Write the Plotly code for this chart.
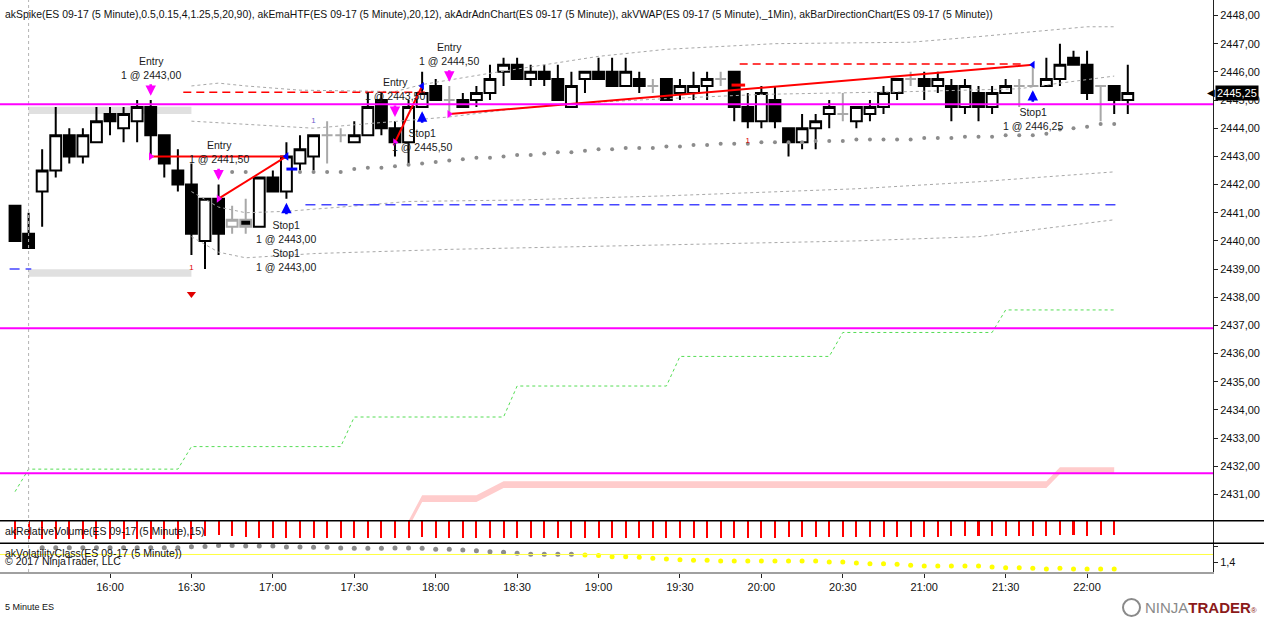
import pandas as pd
import plotly.graph_objects as go

DAY = "2017-07-13"
bar_times = pd.date_range(DAY + " 15:25", periods=83, freq="5min")
x_ticks = ["16:00", "16:30", "17:00", "17:30", "18:00", "18:30", "19:00",
           "19:30", "20:00", "20:30", "21:00", "21:30", "22:00"]

# OHLC of the 83 five-minute bars (15:25 .. 22:15)
opens = [2441.25, 2440.25, 2441.75, 2442.50, 2443.75, 2443.00, 2443.50, 2444.50, 2444.00, 2444.25,
         2444.75, 2443.75, 2442.50, 2442.00, 2440.00, 2441.50, 2440.50, 2440.75, 2440.50, 2442.25,
         2441.75, 2442.75, 2443.00, 2443.75, 2443.75, 2443.50, 2443.75, 2445.00, 2444.00, 2443.50,
         2444.75, 2445.50, 2445.00, 2445.00, 2445.00, 2445.25, 2446.00, 2446.25, 2445.75, 2446.00,
         2445.75, 2444.75, 2445.75, 2446.00, 2446.00, 2445.50, 2445.75, 2445.50, 2445.75, 2445.25,
         2445.25, 2445.50, 2445.75, 2446.00, 2444.75, 2444.25, 2445.00, 2444.00, 2443.50, 2444.00,
         2444.50, 2444.50, 2444.25, 2444.50, 2444.75, 2445.25, 2445.75, 2445.75, 2445.50, 2445.50,
         2444.75, 2445.25, 2444.75, 2445.25, 2445.50, 2445.50, 2445.50, 2445.75, 2446.50, 2446.25,
         2445.50, 2445.50, 2445.00]
highs = [2441.25, 2441.00, 2443.25, 2444.75, 2444.00, 2444.00, 2444.75, 2444.75, 2444.75, 2445.00,
         2445.00, 2443.75, 2443.25, 2442.75, 2441.50, 2442.00, 2441.25, 2441.50, 2442.25, 2442.50,
         2443.50, 2443.75, 2443.75, 2444.25, 2444.00, 2444.25, 2445.25, 2445.25, 2444.25, 2445.00,
         2446.00, 2445.75, 2445.50, 2445.25, 2445.50, 2446.25, 2446.50, 2446.50, 2446.25, 2446.25,
         2446.25, 2446.00, 2446.00, 2446.50, 2446.50, 2446.50, 2446.00, 2445.75, 2445.75, 2445.75,
         2446.00, 2446.00, 2446.00, 2446.00, 2445.25, 2445.50, 2445.50, 2444.00, 2444.50, 2444.50,
         2445.00, 2445.25, 2444.75, 2445.00, 2445.50, 2445.75, 2446.00, 2446.00, 2446.00, 2445.75,
         2445.75, 2445.50, 2445.50, 2445.75, 2445.75, 2446.25, 2446.50, 2447.00, 2446.75, 2446.75,
         2445.50, 2445.50, 2446.25]
lows = [2440.00, 2439.75, 2440.50, 2442.25, 2442.75, 2442.75, 2443.50, 2443.75, 2443.50, 2443.50,
        2443.00, 2442.25, 2441.75, 2439.50, 2439.00, 2439.50, 2440.25, 2440.25, 2440.50, 2441.75,
        2441.50, 2442.50, 2442.50, 2442.75, 2443.50, 2443.50, 2443.75, 2443.75, 2443.00, 2442.75,
        2444.75, 2445.00, 2444.50, 2444.75, 2444.75, 2445.00, 2445.50, 2445.75, 2445.50, 2445.50,
        2445.00, 2444.75, 2445.25, 2445.75, 2445.50, 2445.50, 2445.25, 2445.25, 2445.00, 2445.00,
        2445.00, 2445.00, 2445.50, 2444.25, 2444.00, 2444.00, 2444.00, 2443.00, 2443.25, 2443.25,
        2444.00, 2444.25, 2444.00, 2444.25, 2444.50, 2445.00, 2445.50, 2445.00, 2445.25, 2444.25,
        2444.50, 2444.25, 2444.50, 2445.25, 2444.75, 2445.50, 2445.50, 2445.50, 2446.25, 2445.00,
        2444.25, 2444.50, 2444.50]
closes = [2440.00, 2439.75, 2442.50, 2443.75, 2443.00, 2443.75, 2444.25, 2444.25, 2444.50, 2444.75,
          2443.75, 2442.75, 2442.00, 2440.25, 2441.50, 2440.25, 2440.75, 2440.50, 2442.25, 2441.75,
          2443.00, 2443.25, 2443.75, 2443.75, 2443.75, 2443.75, 2444.75, 2444.00, 2443.50, 2444.75,
          2445.25, 2445.00, 2445.00, 2444.75, 2445.25, 2445.75, 2446.25, 2445.75, 2446.00, 2445.75,
          2445.00, 2445.50, 2446.00, 2445.75, 2445.50, 2446.00, 2445.50, 2445.50, 2445.00, 2445.50,
          2445.50, 2445.75, 2445.75, 2444.75, 2444.25, 2445.25, 2444.25, 2443.50, 2444.00, 2444.25,
          2444.75, 2444.50, 2444.75, 2444.75, 2445.25, 2445.75, 2445.75, 2445.50, 2445.75, 2444.75,
          2445.50, 2444.75, 2445.25, 2445.50, 2445.50, 2445.50, 2445.75, 2446.25, 2446.25, 2445.25,
          2445.50, 2445.00, 2445.25]
# bars painted grey by akBarDirectionChart
gray_bars = [16, 17, 23, 24, 32, 47, 52, 61, 66, 74, 75, 80]

# akVWAP dots, bars 16..81
vwap_start = 16
vwap = [2442.45, 2442.45, None, None, None, 2442.45, 2442.45, 2442.45, 2442.45, 2442.55,
        2442.60, 2442.60, 2442.65, 2442.70, 2442.75, 2442.80, 2442.85, 2442.90, 2442.95, 2442.95,
        2443.00, 2443.05, 2443.05, 2443.10, 2443.15, 2443.15, 2443.20, 2443.25, 2443.25, 2443.30,
        2443.30, 2443.30, 2443.35, 2443.35, 2443.40, 2443.40, 2443.45, 2443.45, 2443.45, 2443.50,
        2443.50, 2443.50, 2443.50, 2443.55, 2443.55, 2443.55, 2443.60, 2443.60, 2443.60, 2443.60,
        2443.60, 2443.65, 2443.65, 2443.65, 2443.70, 2443.70, 2443.70, 2443.75, 2443.75, 2443.75,
        2443.80, 2443.95, 2444.00, 2444.05, 2444.15, 2444.15]

# akEmaHTF band lines (bar index, price)
band_a_idx = [13, 15, 17, 21, 28, 30, 35, 43, 48, 56, 66, 71, 79, 81]
band_a = [2445.50, 2445.60, 2445.50, 2445.35, 2445.30, 2445.55, 2445.95, 2446.55, 2446.80, 2447.00,
          2447.05, 2447.25, 2447.60, 2447.60]
band_b_idx = [13, 17, 22, 27, 32, 37, 42, 48, 55, 66, 74, 77, 81]
band_b = [2444.25, 2444.15, 2444.00, 2444.20, 2444.40, 2444.70, 2444.90, 2445.05, 2445.20, 2445.30,
          2445.40, 2445.60, 2445.85]
band_c_idx = [13, 15, 17, 20, 24, 29, 37, 48, 62, 71, 81]
band_c = [2441.75, 2441.20, 2441.00, 2441.05, 2441.20, 2441.40, 2441.45, 2441.60, 2441.85, 2442.10, 2442.45]
band_d_idx = [13, 15, 17, 22, 32, 48, 62, 71, 77, 81]
band_d = [2440.15, 2439.60, 2439.40, 2439.55, 2439.70, 2439.85, 2440.00, 2440.15, 2440.50, 2440.75]

# akAdrAdnChart step line and band
green_idx = [0, 1, 12, 13, 24, 25, 36, 37, 48, 49, 60, 61, 72, 73, 81]
green = [2431.10, 2431.90, 2431.90, 2432.70, 2432.70, 2433.75, 2433.75, 2434.85, 2434.85, 2435.90,
         2435.90, 2436.75, 2436.75, 2437.55, 2437.55]
pink_idx = [29, 30, 34, 36, 76, 77, 81]
pink = [2429.95, 2430.85, 2430.85, 2431.35, 2431.35, 2431.85, 2431.85]

adr_levels = [2444.85, 2436.90, 2431.75]
zone_low = [2444.50, 2438.73]
zone_high = [2444.76, 2438.99]
zone_from, zone_to = "15:30", "16:30"
red_dash_px = [2445.28, 2446.28]
red_dash_from = ["16:27", "19:52"]
red_dash_to = ["17:56", "21:36"]
blue_dash_px = [2441.28, 2439.00]
blue_dash_from = ["17:12", "15:23"]
blue_dash_to = ["22:11", "15:31"]
session_break = "15:30"

# trades
entry_idx = [10, 15, 28, 32]
entry_px = [2443.00, 2441.50, 2443.50, 2444.50]
exit_idx = [20, 20, 30, 75]
exit_px = [2443.00, 2443.00, 2445.50, 2446.25]
stop_mark_px, stop_mark_from, stop_mark_to = 2442.55, "17:05", "17:09"
target_mark_px, target_mark_from, target_mark_to = 2445.53, "19:49", "19:54"

# akSpike marks
spike_idx = [13]
spike_px = [2438.12]
spike_num_idx = [22, 13, 54]
spike_num_px = [2444.27, 2439.04, 2443.56]
spike_num_col = ["#6a5acd", "#e00000", "#e00000"]

# lower panels, bars 0..81 / 2..81
rel_volume = [1.75] * 14 + [1.5, 1.4, 1.5, 1.6] + [1.73] * 12 + [1.6] + [1.73] * 10 + \
             [1.66] * 6 + [1.73] * 4 + [1.66] + [1.73] * 3 + [1.66, 1.73] + [1.6] * 12 + \
             [1.5] * 8 + [1.4, 1.4, 1.5, 1.4, 1.4]
vol_start = 2
volatility = [1.49] * 11 + [1.495, 1.497, 1.503, 1.503, 1.5, 1.5, 1.5, 1.494, 1.494, 1.492,
              1.492, 1.488, 1.486, 1.486, 1.486, 1.488, 1.488, 1.486, 1.48, 1.48,
              1.475, 1.471, 1.465, 1.461, 1.455, 1.45, 1.45, 1.45, 1.45,
              1.445, 1.441, 1.434, 1.434, 1.431, 1.425, 1.42, 1.416, 1.412, 1.412,
              1.408, 1.408, 1.408, 1.408, 1.408, 1.408, 1.408, 1.408, 1.402, 1.402,
              1.396, 1.391, 1.391, 1.388, 1.382, 1.377, 1.377, 1.377, 1.377, 1.377,
              1.371, 1.367, 1.367, 1.363, 1.359, 1.363, 1.359, 1.359, 1.359, 1.359]
vol_line = 1.448

FONT = "Liberation Sans, Arial, sans-serif"


def t(hhmm):
    return pd.Timestamp(DAY + " " + hhmm)


def fmt(p):
    return f"{p:.2f}".replace(".", ",")


def at(idx):
    return [bar_times[i] for i in idx]


fig = go.Figure()

fig.add_trace(go.Scatter(x=at(green_idx), y=green, mode="lines",
                         line=dict(color="#55dd55", width=1, dash="dot")))
fig.add_trace(go.Scatter(x=at(pink_idx), y=[v - 0.12 for v in pink], mode="lines",
                         line=dict(width=0, color="#ffcccc")))
fig.add_trace(go.Scatter(x=at(pink_idx), y=[v + 0.12 for v in pink], mode="lines",
                         line=dict(width=0, color="#ffcccc"), fill="tonexty", fillcolor="#ffcccc"))

for bi, bv in [(band_a_idx, band_a), (band_b_idx, band_b), (band_c_idx, band_c), (band_d_idx, band_d)]:
    fig.add_trace(go.Scatter(x=at(bi), y=bv, mode="lines",
                             line=dict(color="#a8a8a8", width=1, dash="dot")))

fig.add_trace(go.Scatter(x=bar_times[vwap_start:vwap_start + len(vwap)], y=vwap, mode="markers",
                         marker=dict(size=4, color="#8c8c8c")))


# candles: normal and grey ones
def pick(vals, keep):
    return [v if keep(i) else None for i, v in enumerate(vals)]


normal = lambda i: i not in gray_bars
grey = lambda i: i in gray_bars
fig.add_trace(go.Candlestick(
    x=bar_times, open=pick(opens, normal), high=pick(highs, normal),
    low=pick(lows, normal), close=pick(closes, normal),
    increasing=dict(line=dict(color="black", width=2), fillcolor="white"),
    decreasing=dict(line=dict(color="black", width=2), fillcolor="black"),
    whiskerwidth=0, hoverinfo="skip"))
fig.add_trace(go.Candlestick(
    x=bar_times, open=pick(opens, grey), high=pick(highs, grey),
    low=pick(lows, grey), close=pick(closes, grey),
    increasing=dict(line=dict(color="#a8a8a8", width=2), fillcolor="white"),
    decreasing=dict(line=dict(color="#a8a8a8", width=2), fillcolor="black"),
    whiskerwidth=0, hoverinfo="skip"))

# trade lines
for ei, ep, xi, xp in zip(entry_idx, entry_px, exit_idx, exit_px):
    fig.add_trace(go.Scatter(x=[bar_times[ei], bar_times[xi]], y=[ep, xp], mode="lines",
                             line=dict(color="#ff0000", width=2)))
fig.add_trace(go.Scatter(x=at(entry_idx), y=entry_px, mode="markers",
                         marker=dict(symbol="triangle-right", size=7, color="#ff00ff")))
fig.add_trace(go.Scatter(x=at(exit_idx), y=exit_px, mode="markers",
                         marker=dict(symbol="triangle-left", size=7, color="#0000ff")))
fig.add_trace(go.Scatter(x=[t(stop_mark_from), t(stop_mark_to)], y=[stop_mark_px] * 2, mode="lines",
                         line=dict(color="#0000ff", width=3)))
fig.add_trace(go.Scatter(x=[t(target_mark_from), t(target_mark_to)], y=[target_mark_px] * 2,
                         mode="lines", line=dict(color="#ff0000", width=3)))

# spikes
fig.add_trace(go.Scatter(x=at(spike_idx), y=spike_px, mode="markers",
                         marker=dict(symbol="triangle-down", size=8, color="#e00000")))
fig.add_trace(go.Scatter(x=at(spike_num_idx), y=spike_num_px, mode="text", text=["1"] * 3,
                         textfont=dict(size=8, color=spike_num_col, family=FONT)))

# lower panels
fig.add_trace(go.Bar(x=bar_times[:len(rel_volume)], y=rel_volume, yaxis="y2",
                     width=45000, marker=dict(color="#ff0000", line=dict(width=0))))
vol_colors = ["#8c8c8c" if v > vol_line else "#ffff00" for v in volatility]
fig.add_trace(go.Scatter(x=bar_times[vol_start:vol_start + len(volatility)], y=volatility,
                         yaxis="y3", mode="markers", marker=dict(size=5, color=vol_colors)))

shapes = []
PW = 1213.0
PH = 572.0
right_edge = 1264 / PW
for yp in [(PH - 520.7) / PH, (PH - 543.3) / PH]:
    shapes.append(dict(type="line", xref="paper", yref="paper", x0=0, x1=right_edge, y0=yp, y1=yp,
                       line=dict(color="black", width=1.5)))
shapes.append(dict(type="line", xref="x", yref="paper", x0=t(session_break), x1=t(session_break),
                   y0=0, y1=1, line=dict(color="#b4b4b4", width=1, dash="dot")))
for lo, hi in zip(zone_low, zone_high):
    shapes.append(dict(type="rect", xref="x", yref="y", x0=t(zone_from), x1=t(zone_to), y0=lo, y1=hi,
                       fillcolor="#e0e0e0", line=dict(width=0), layer="below"))
for p, a, b in zip(red_dash_px, red_dash_from, red_dash_to):
    shapes.append(dict(type="line", xref="x", yref="y", x0=t(a), x1=t(b), y0=p, y1=p,
                       line=dict(color="#ff0000", width=1.5, dash="8px,5px")))
for p, a, b in zip(blue_dash_px, blue_dash_from, blue_dash_to):
    shapes.append(dict(type="line", xref="x", yref="y", x0=t(a), x1=t(b), y0=p, y1=p,
                       line=dict(color="#4646ff", width=1.5, dash="10px,6px")))
for p in adr_levels:
    shapes.append(dict(type="line", xref="paper", yref="y", x0=0, x1=1, y0=p, y1=p,
                       line=dict(color="#ff00ff", width=2)))
shapes.append(dict(type="line", xref="paper", yref="y3", x0=0, x1=1, y0=vol_line, y1=vol_line,
                   line=dict(color="#ffff40", width=1)))
# logo ring
shapes.append(dict(type="circle", xref="paper", yref="paper",
                   x0=1123 / PW, x1=1140 / PW, y0=(PH - 616) / PH, y1=(PH - 599) / PH,
                   line=dict(color="#8a8a8a", width=2)))

ann = []
txt = dict(family=FONT, size=10.5, color="#111111")
ann.append(dict(xref="paper", yref="paper", x=3 / PW, y=(PH - 14) / PH, xanchor="left", yanchor="middle",
                showarrow=False, font=dict(family=FONT, size=10.4, color="#111111"),
                text="akSpike(ES 09-17 (5 Minute),0.5,0.15,4,1.25,5,20,90), akEmaHTF(ES 09-17 (5 Minute),20,12), "
                     "akAdrAdnChart(ES 09-17 (5 Minute)), akVWAP(ES 09-17 (5 Minute),_1Min), "
                     "akBarDirectionChart(ES 09-17 (5 Minute))"))
for text, py in [("akRelativeVolume(ES 09-17 (5 Minute),15)", 531),
                 ("akVolatilityClass(ES 09-17 (5 Minute))", 553),
                 ("© 2017 NinjaTrader, LLC", 561)]:
    ann.append(dict(xref="paper", yref="paper", x=3 / PW, y=(PH - py) / PH, xanchor="left",
                    yanchor="middle", showarrow=False, font=txt, text=text))
ann.append(dict(xref="paper", yref="paper", x=3 / PW, y=(PH - 607) / PH, xanchor="left", yanchor="middle",
                showarrow=False, font=dict(family=FONT, size=9, color="#111111"), text="5 Minute ES"))
ann.append(dict(xref="paper", yref="paper", x=1143 / PW, y=(PH - 607) / PH, xanchor="left",
                yanchor="middle", showarrow=False, font=dict(family=FONT, size=15, color="#8a8a8a"),
                text="NINJA<b><span style='color:#8b1a1a'>TRADER</span></b>"
                     "<span style='color:#8b1a1a;font-size:8px'>®</span>"))

# last price box
ann.append(dict(xref="paper", yref="y", x=1, y=closes[-1], xanchor="left", yanchor="middle", xshift=2,
                showarrow=False, text=fmt(closes[-1]), bgcolor="black", borderpad=1,
                font=dict(family=FONT, size=11, color="white")))
ann.append(dict(xref="paper", yref="y", x=1, y=closes[-1], xanchor="right", yanchor="middle", xshift=4,
                showarrow=False, text="◀", font=dict(family=FONT, size=10, color="black")))

lab = dict(family=FONT, size=10.5, color="#1a1a1a")
for ei, ep in zip(entry_idx, entry_px):
    tip = highs[ei] + 0.15
    ann.append(dict(x=bar_times[ei], y=tip, ax=0, ay=-13, showarrow=True, text="", arrowhead=2,
                    arrowsize=0.8, arrowwidth=2.6, arrowcolor="#ff00ff", standoff=0))
    ann.append(dict(x=bar_times[ei], y=tip, showarrow=False, yanchor="bottom", yshift=13,
                    text="Entry<br>1 @ " + fmt(ep), font=lab))
seen = {}
for xi, xp in zip(exit_idx, exit_px):
    tip = lows[xi] - 0.15
    k = seen.get(xi, 0)
    seen[xi] = k + 1
    if k == 0:
        ann.append(dict(x=bar_times[xi], y=tip, ax=0, ay=13, showarrow=True, text="", arrowhead=2,
                        arrowsize=0.8, arrowwidth=2.6, arrowcolor="#0000ff", standoff=0))
    ann.append(dict(x=bar_times[xi], y=tip, showarrow=False, yanchor="top", yshift=-14 - 28 * k,
                    text="Stop1<br>1 @ " + fmt(xp), font=lab))

axis_font = dict(family=FONT, size=11, color="#111111")
fig.update_layout(
    width=1264, height=617,
    margin=dict(l=0, r=51, t=0, b=45),
    paper_bgcolor="white", plot_bgcolor="white",
    showlegend=False, separators=",.", boxgap=0.2, boxgroupgap=0, bargap=0,
    shapes=shapes, annotations=ann,
    xaxis=dict(type="date", domain=[0, 1], anchor="y3",
               range=[t("15:19:28"), t("22:46:24")],
               tickvals=[t(h) for h in x_ticks], ticktext=x_ticks,
               showgrid=False, zeroline=False, showline=True, linecolor="#a0a0a0", linewidth=2,
               ticks="outside", ticklen=4, tickcolor="#222222", tickfont=axis_font,
               rangeslider=dict(visible=False), fixedrange=True),
    yaxis=dict(domain=[(PH - 520.7) / PH, 1], anchor="x", side="right",
               range=[2430.07, 2448.55], tick0=2431, dtick=1, tickformat=".2f",
               showgrid=False, zeroline=False, showline=True, linecolor="#222222", linewidth=1,
               ticks="outside", ticklen=4, tickcolor="#222222", tickfont=axis_font),
    yaxis2=dict(domain=[(PH - 543.3) / PH, (PH - 520.7) / PH], anchor="x", side="right",
                range=[2.26, 0], showticklabels=False, showgrid=False, zeroline=False,
                showline=True, linecolor="#222222", linewidth=1, ticks=""),
    yaxis3=dict(domain=[0, (PH - 543.3) / PH], anchor="x", side="right",
                range=[1.3405, 1.5166], tickvals=[1.4, 1.5], ticktext=["1,4", ""],
                showgrid=False, zeroline=False, showline=True, linecolor="#222222", linewidth=1,
                ticks="outside", ticklen=4, tickcolor="#222222", tickfont=axis_font),
)

fig.write_html("out.html", config={"displayModeBar": False},
               post_script="document.body.style.margin='0px';")
